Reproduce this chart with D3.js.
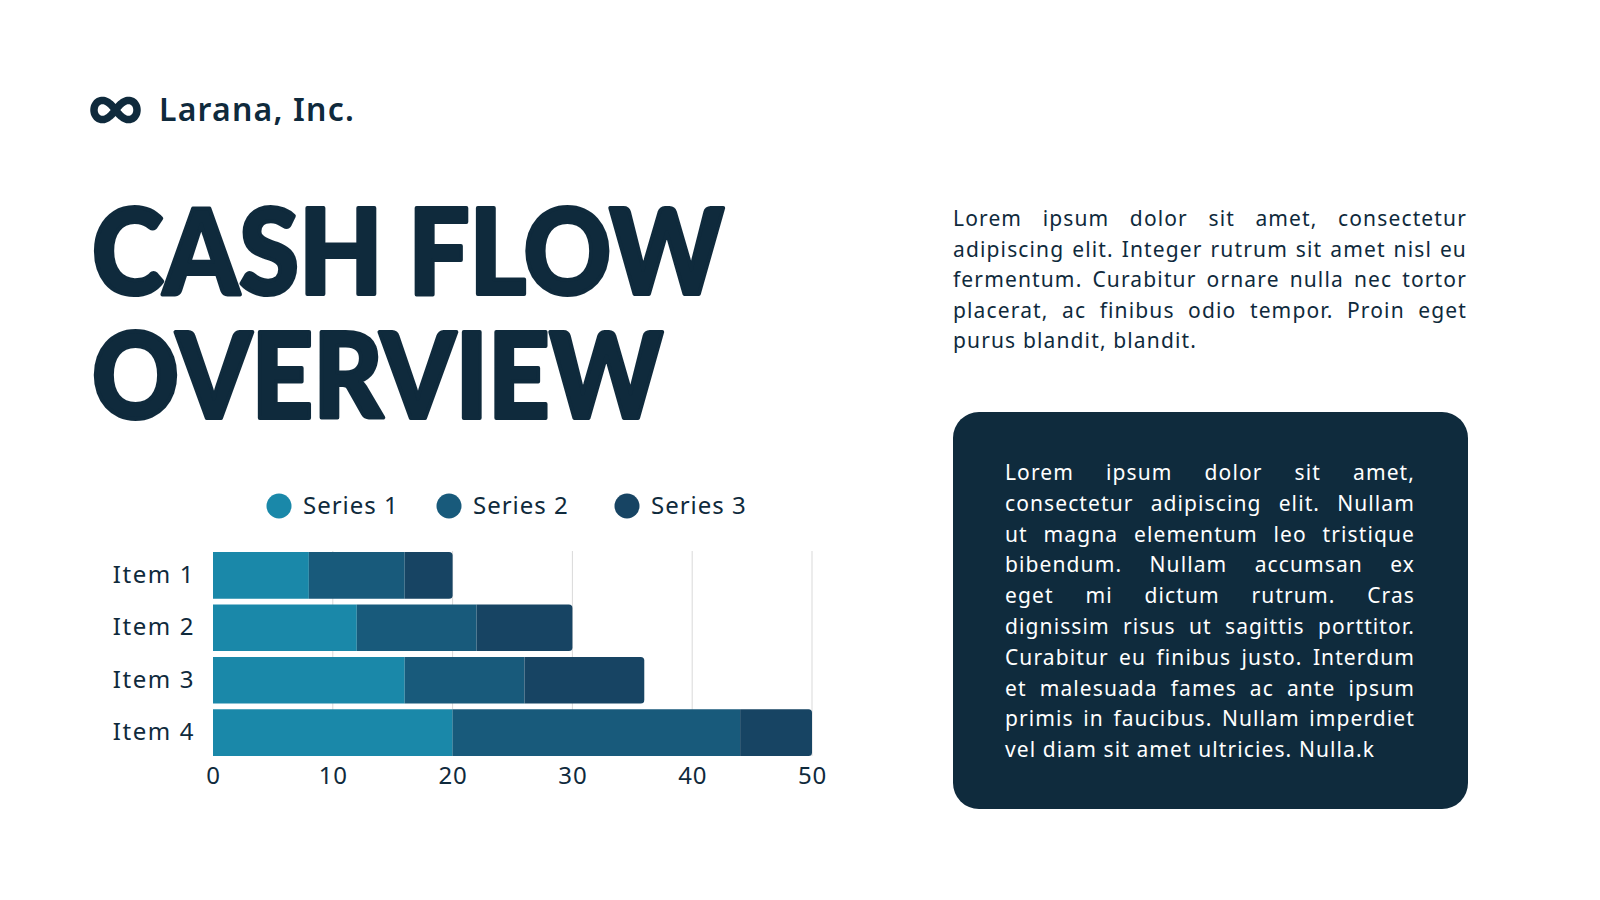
<!DOCTYPE html>
<html>
<head>
<meta charset="utf-8">
<script src="https://cdn.jsdelivr.net/npm/d3@7"></script>
<style>
  html, body { margin: 0; padding: 0; background: #fff; }
  svg { display: block; }
</style>
</head>
<body>
<div id="chart"></div>
<script>
// chart values
const items = ["Item 1", "Item 2", "Item 3", "Item 4"];
const seriesNames = ["Series 1", "Series 2", "Series 3"];
const series1 = [8, 12, 16, 20];
const series2 = [8, 10, 10, 24];
const series3 = [4, 8, 10, 6];
const xTicks = [0, 10, 20, 30, 40, 50];

// page copy
const company = "Larana, Inc.";
const titleLines = ["CASH FLOW", "OVERVIEW"];
const introLines = [
  "Lorem ipsum dolor sit amet, consectetur",
  "adipiscing elit. Integer rutrum sit amet nisl eu",
  "fermentum. Curabitur ornare nulla nec tortor",
  "placerat, ac finibus odio tempor. Proin eget",
  "purus blandit, blandit."
];
const boxLines = [
  "Lorem ipsum dolor sit amet,",
  "consectetur adipiscing elit. Nullam",
  "ut magna elementum leo tristique",
  "bibendum. Nullam accumsan ex",
  "eget mi dictum rutrum. Cras",
  "dignissim risus ut sagittis porttitor.",
  "Curabitur eu finibus justo. Interdum",
  "et malesuada fames ac ante ipsum",
  "primis in faucibus. Nullam imperdiet",
  "vel diam sit amet ultricies. Nulla.k"
];

const ink = "#0f2a3c";
const colors = ["#1a88a9", "#185a7b", "#174463"];
const bodyFont = "'Noto Sans', 'Open Sans', sans-serif";

const svg = d3.select("#chart")
    .append("svg")
    .attr("width", 1600)
    .attr("height", 900);

svg.append("rect").attr("width", 1600).attr("height", 900).attr("fill", "#fff");

// logo: a thick infinity loop
const lem = d3.range(0, 2 * Math.PI + 0.01, Math.PI / 60).map(t => {
    const s = Math.sin(t), c = Math.cos(t), k = 1 + s * s;
    return [115.5 + 21.5 * c / k, 110 + 27 * s * c / k];
});
svg.append("path")
    .attr("d", d3.line().curve(d3.curveCardinalClosed)(lem))
    .attr("fill", "none")
    .attr("stroke", ink)
    .attr("stroke-width", 7.5);

// make a text run a given width by tuning letter spacing
const fitWidth = (sel, w) => {
    const n = sel.text().length;
    const cur = sel.node().getComputedTextLength();
    sel.attr("letter-spacing", (w - cur) / n);
};

const co = svg.append("text")
    .attr("x", 159).attr("y", 121)
    .attr("font-family", bodyFont)
    .attr("font-weight", 600)
    .attr("font-size", 32)
    .attr("fill", ink)
    .text(company);
fitWidth(co, 196);

// title, thickened with a stroke to get closer to the heavy face
const titleX = 92;
const titleSpec = [{y: 294, w: 632}, {y: 418, w: 571}];
titleLines.forEach((t, i) => {
    svg.append("text")
        .attr("x", titleX).attr("y", titleSpec[i].y)
        .attr("font-family", "Lato, Roboto, sans-serif")
        .attr("font-weight", 900)
        .attr("font-size", 118)
        .attr("textLength", titleSpec[i].w)
        .attr("lengthAdjust", "spacingAndGlyphs")
        .attr("fill", ink)
        .attr("stroke", ink)
        .attr("stroke-width", 4)
        .attr("stroke-linejoin", "round")
        .text(t);
});

// justified paragraph, one svg text per line
const paragraph = (lines, x, y0, lh, w, lastW, fill) => {
    const g = svg.append("g")
        .attr("font-family", bodyFont)
        .attr("font-size", 21)
        .attr("fill", fill);
    const probe = g.append("text").text(lines[lines.length - 1]);
    const ls = (lastW - probe.node().getComputedTextLength()) / lines[lines.length - 1].length;
    probe.remove();
    lines.forEach((line, i) => {
        const t = g.append("text")
            .attr("x", x).attr("y", y0 + i * lh)
            .attr("letter-spacing", ls)
            .text(line);
        if (i < lines.length - 1) {
            const gaps = line.split(" ").length - 1;
            const natural = t.node().getComputedTextLength();
            t.attr("word-spacing", (w - natural) / gaps);
        }
    });
};

paragraph(introLines, 953, 226, 30.6, 514, 244, ink);

svg.append("rect")
    .attr("x", 953).attr("y", 412)
    .attr("width", 515).attr("height", 397)
    .attr("rx", 26)
    .attr("fill", "#0f2b3d");

paragraph(boxLines, 1005, 480, 30.8, 410, 370, "#ffffff");

// stacked bar chart
const rows = items.map((name, i) => ({
    name, "Series 1": series1[i], "Series 2": series2[i], "Series 3": series3[i]
}));
const stacked = d3.stack().keys(seriesNames)(rows);

const x = d3.scaleLinear().domain([0, 50]).range([213, 812]);
const y = d3.scaleBand().domain(items).range([552, 756]).paddingInner(0.11).paddingOuter(0);

svg.append("g")
    .selectAll("line")
    .data(xTicks.slice(1))
    .join("line")
    .attr("x1", d => x(d)).attr("x2", d => x(d))
    .attr("y1", 551).attr("y2", 756)
    .attr("stroke", "#d9d9d9")
    .attr("stroke-width", 1);

const segPath = (x0, x1, y0, h, r) => {
    if (!r) return `M${x0},${y0}H${x1}V${y0 + h}H${x0}Z`;
    return `M${x0},${y0}H${x1 - r}Q${x1},${y0} ${x1},${y0 + r}` +
        `V${y0 + h - r}Q${x1},${y0 + h} ${x1 - r},${y0 + h}H${x0}Z`;
};

svg.append("g")
    .selectAll("g")
    .data(stacked)
    .join("g")
    .attr("fill", (d, i) => colors[i])
    .selectAll("path")
    .data((d, i) => d.map(v => ({v, last: i === stacked.length - 1})))
    .join("path")
    .attr("d", d => segPath(x(d.v[0]), x(d.v[1]), y(d.v.data.name), y.bandwidth(), d.last ? 3.5 : 0));

const xAxis = svg.append("g")
    .attr("transform", "translate(0,756)")
    .call(d3.axisBottom(x).tickValues(xTicks).tickSize(0).tickPadding(11));
xAxis.select(".domain").remove();
xAxis.selectAll("text")
    .attr("font-family", bodyFont)
    .attr("font-size", 24)
    .attr("letter-spacing", 0.8)
    .attr("fill", ink);

const yAxis = svg.append("g")
    .attr("transform", "translate(213,0)")
    .call(d3.axisLeft(y).tickSize(0).tickPadding(18));
yAxis.select(".domain").remove();
yAxis.selectAll("text")
    .attr("font-family", bodyFont)
    .attr("font-size", 24)
    .attr("letter-spacing", 1.6)
    .attr("fill", ink);

// legend
const legendX = [279, 449, 627];
const legend = svg.append("g")
    .selectAll("g")
    .data(seriesNames)
    .join("g")
    .attr("transform", (d, i) => `translate(${legendX[i]},506)`);
legend.append("circle")
    .attr("r", 12.5)
    .attr("fill", (d, i) => colors[i]);
legend.append("text")
    .attr("x", 24)
    .attr("dy", "0.35em")
    .attr("font-family", bodyFont)
    .attr("font-size", 24)
    .attr("letter-spacing", 1)
    .attr("fill", ink)
    .text(d => d);
</script>
</body>
</html>
